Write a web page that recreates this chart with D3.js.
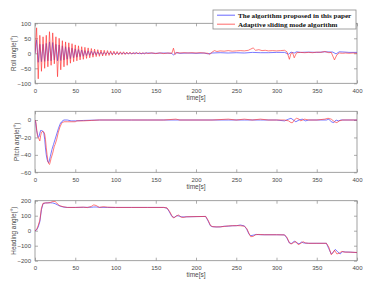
<!DOCTYPE html>
<html><head><meta charset="utf-8">
<script src="https://cdn.jsdelivr.net/npm/d3@7"></script>
<style>
html,body{margin:0;padding:0;background:#fff;}
svg{display:block;}
</style></head>
<body>
<svg id="chart" width="375" height="291"></svg>
<script>
// ---------------- data ----------------
const xTicks = [0, 50, 100, 150, 200, 250, 300, 350, 400];
const rollTicks = [-100, -50, 0, 50, 100];
const pitchTicks = [-60, -40, -20, 0];
const headTicks = [-200, -100, 0, 100, 200];
const seriesNames = ["The algorithm proposed in this paper", "Adaptive sliding mode algorithm"];
const yLabels = ["Roll angle(°)", "Pitch angle(°)", "Heading angle(°)"];

const rollRed = [[0,0],[2,85],[4,-85],[6,60],[8,-60],[10,55],[12,-50],[14,60],[16,-45],[18,72],[20,-40],[22,68],[24,-35],[26,55],[28,-78],[30,50],[32,-55],[34,42],[36,-45],[38,38],[40,-40],[42,35],[44,-33],[46,32],[48,-28],[50,28],[52,-25],[54,25],[56,-22],[58,22],[60,-20],[62,20],[64,-17],[66,18],[68,-15],[70,16],[72,-13],[74,14],[76,-11],[78,12],[80,-10],[82,11],[84,-9],[86,10],[88,-8],[90,9],[92,-7],[94,8],[96,-6],[98,7],[100,-5],[102,6],[104,-5],[106,5],[108,-4],[110,5],[112,-4],[114,4],[116,-3],[118,4],[120,-3],[122,3],[124,-3],[126,3],[128,-2],[130,3],[132,-2],[134,2],[136,-2],[138,2],[140,-1],
[145,1.5],[150,-1],[155,1.5],[160,-1],[165,1],[170,0],[172,17],[174,-4],[176,3],[180,1],[185,2],[190,1],[195,2],[200,1],[205,2],[210,1],[215,0],[217,-4],[220,4],[223,9],[226,6],[230,8],[235,7],[240,9],[245,7],[250,8],[255,9],[260,8],[265,10],[268,14],[271,18],[274,10],[278,12],[282,9],[286,10],[290,8],[295,9],[300,8],[305,9],[310,10],[313,5],[316,-20],[318,0],[320,2],[322,-15],[325,2],[330,3],[335,2],[340,3],[345,2],[350,4],[355,3],[360,6],[365,2],[368,3],[372,-22],[375,-5],[378,1],[382,0],[386,1],[390,0],[395,1],[400,0]];

const rollBlue = [[0,0],[2,45],[4,-30],[6,30],[8,-28],[10,30],[12,-27],[14,33],[16,-25],[18,38],[20,-25],[22,36],[24,-22],[26,30],[28,-25],[30,28],[32,-24],[34,25],[36,-22],[38,22],[40,-20],[42,20],[44,-18],[46,17],[48,-15],[50,15],[52,-13],[54,13],[56,-11],[58,11],[60,-10],[62,9],[64,-8],[66,8],[68,-7],[70,7],[72,-6],[74,6],[76,-5],[78,5],[80,-4],[82,4],[84,-4],[86,3],[88,-3],[90,3],[92,-2],[94,2],[96,-2],[98,2],[100,-2],[102,1.5],[104,-1.5],[106,1.5],[108,-1],[110,1],[112,-1],[114,1],[116,-1],[118,1],[120,-1],
[125,1],[130,-1],[140,1],[150,0],[160,1],[170,0],[172,-6],[175,2],[180,0],[190,1],[200,0],[210,1],[215,-2],[218,0],[220,1],[230,2],[240,1],[250,2],[260,1],[270,3],[280,2],[290,2],[300,3],[310,3],[315,-3],[318,4],[322,1],[325,5],[330,3],[340,4],[350,3],[360,5],[370,4],[374,-2],[378,5],[385,4],[390,3],[400,3]];

const pitchRed = [[0,0],[1,-2],[3,-18],[5,-22],[6,-24],[7,-18],[8,-14],[10,-13],[11,-14],[12,-16],[13,-22],[14,-32],[15,-40],[16,-47],[17,-50],[18,-51],[19,-48],[20,-44],[22,-38],[24,-30],[25,-28],[27,-22],[29,-14],[31,-8],[33,-4],[34,-3],[36,-2],[40,-2],[45,-2],[50,-2],[52,-1],[60,-1],[70,-0.5],[80,0],[100,0],[120,0],[140,0],[160,0],[175,1],[180,0],[200,0],[220,0],[240,1],[250,0],[260,1],[270,0],[280,1],[290,0],[300,0],[310,0],[315,-1],[318,-3],[320,-3],[322,0],[325,2],[328,1],[330,-1],[335,1],[340,0],[350,0],[360,1],[364,2],[368,1],[372,-2],[375,-3],[378,-1],[382,0],[390,0],[400,0]];

const pitchBlue = [[0,0],[1,-4],[2,-12],[4,-20],[5,-19],[6,-15],[7,-12],[8,-12],[10,-13],[11,-15],[12,-22],[13,-32],[14,-40],[15,-45],[16,-48],[17,-49],[18,-46],[19,-42],[21,-34],[23,-28],[25,-22],[27,-16],[29,-10],[31,-5],[32,-3],[33,-3],[34,-1],[36,0],[40,0],[45,-1],[50,-1],[60,-0.5],[80,0],[120,0],[160,0],[200,0],[240,0],[260,0],[280,0],[300,0],[310,-1],[315,1],[318,2],[321,0],[324,-2],[328,0],[332,1],[336,-1],[340,0],[355,0],[362,0],[365,1],[368,-2],[371,-3],[374,0],[377,-1],[380,0],[400,0]];

const headRed = [[0,0],[2,8],[4,35],[6,70],[8,150],[10,183],[13,185],[16,185],[19,188],[22,195],[25,195],[27,185],[30,168],[35,160],[40,155],[50,155],[60,157],[65,154],[70,162],[73,172],[76,168],[80,155],[85,160],[90,157],[100,155],[120,155],[140,155],[160,155],[164,152],[167,130],[170,100],[172,85],[175,95],[178,105],[181,92],[184,88],[188,93],[200,94],[212,95],[215,70],[218,35],[220,28],[225,25],[230,26],[235,28],[240,32],[245,33],[250,34],[255,33],[260,30],[263,15],[266,-20],[268,-40],[271,-38],[274,-27],[278,-25],[285,-27],[300,-27],[310,-28],[313,-45],[316,-80],[318,-89],[321,-80],[324,-72],[327,-93],[330,-85],[333,-73],[336,-82],[340,-84],[350,-84],[362,-84],[365,-110],[368,-160],[370,-150],[372,-130],[375,-155],[378,-150],[381,-138],[385,-143],[390,-143],[400,-145]];

const headBlue = [[0,0],[2,5],[4,25],[6,60],[8,140],[10,180],[13,185],[16,186],[19,186],[22,185],[25,180],[28,172],[32,162],[36,157],[40,155],[50,155],[60,156],[70,156],[73,158],[76,158],[80,156],[90,155],[100,155],[120,155],[140,155],[160,155],[164,150],[167,125],[170,95],[173,88],[176,100],[179,98],[182,92],[186,92],[200,94],[212,95],[215,65],[218,32],[221,26],[226,25],[230,25],[235,30],[240,30],[245,33],[250,33],[255,38],[260,32],[263,10],[266,-25],[268,-33],[271,-30],[275,-25],[280,-27],[300,-27],[310,-28],[313,-50],[316,-82],[319,-85],[322,-70],[325,-80],[328,-88],[331,-76],[334,-82],[340,-84],[362,-84],[365,-120],[368,-155],[371,-140],[373,-125],[376,-140],[379,-155],[382,-140],[386,-142],[392,-143],[400,-146]];

// ---------------- drawing ----------------
const svg = d3.select("#chart");
const BLUE = "#4545ff", RED = "#ff3030", FRAME = "#8a8a8a", TXT = "#4a4a4a";
const left = 35, right = 357;
const x = d3.scaleLinear().domain([0, 400]).range([left, right]);

const panels = [
  {top: 23.3, bottom: 83.3, domain: [-100, 100], ticks: rollTicks, red: rollRed, blue: rollBlue, label: yLabels[0], lx: 15.5},
  {top: 111.3, bottom: 172.3, domain: [-60, 10], ticks: pitchTicks, red: pitchRed, blue: pitchBlue, label: yLabels[1], lx: 19},
  {top: 200.7, bottom: 260.7, domain: [-200, 200], ticks: headTicks, red: headRed, blue: headBlue, label: yLabels[2], lx: 15.5}
];

panels.forEach((p, i) => {
  const y = d3.scaleLinear().domain(p.domain).range([p.bottom, p.top]);
  const g = svg.append("g");
  const cid = "clip" + i;
  svg.append("clipPath").attr("id", cid).append("rect")
    .attr("x", left).attr("y", p.top).attr("width", right - left).attr("height", p.bottom - p.top);

  const xa = g.append("g").attr("transform", `translate(0,${p.bottom})`)
    .call(d3.axisBottom(x).tickValues(xTicks).tickSize(-3).tickPadding(5).tickFormat(d3.format("d")));
  const xt = g.append("g").attr("transform", `translate(0,${p.top})`)
    .call(d3.axisTop(x).tickValues(xTicks).tickSize(-3).tickFormat(""));
  const ya = g.append("g").attr("transform", `translate(${left},0)`)
    .call(d3.axisLeft(y).tickValues(p.ticks).tickSize(-3).tickPadding(4));
  const yr = g.append("g").attr("transform", `translate(${right},0)`)
    .call(d3.axisRight(y).tickValues(p.ticks).tickSize(-3).tickFormat(""));
  [xa, xt, ya, yr].forEach(a => {
    a.select(".domain").remove();
    a.selectAll(".tick line").attr("stroke", FRAME).attr("stroke-width", 0.7);
    a.selectAll("text").attr("fill", TXT).style("font-family", "Liberation Sans, Arial, sans-serif").style("font-size", "6px");
  });
  g.append("rect").attr("x", left).attr("y", p.top).attr("width", right - left).attr("height", p.bottom - p.top)
    .attr("fill", "none").attr("stroke", FRAME).attr("stroke-width", 0.8);

  const line = d3.line().x(d => x(d[0])).y(d => y(d[1]));
  g.append("path").datum(p.blue).attr("clip-path", `url(#${cid})`)
    .attr("d", line).attr("fill", "none").attr("stroke", BLUE).attr("stroke-width", 0.8).attr("stroke-opacity", 0.9);
  g.append("path").datum(p.red).attr("clip-path", `url(#${cid})`)
    .attr("d", line).attr("fill", "none").attr("stroke", RED).attr("stroke-width", 0.8).attr("stroke-opacity", 0.8);

  g.append("text").attr("x", 196).attr("y", p.bottom + 16.5).attr("text-anchor", "middle")
    .attr("fill", TXT).style("font-family", "Liberation Sans, Arial, sans-serif").style("font-size", "6.5px").text("time[s]");
  const cy = (p.top + p.bottom) / 2;
  g.append("text").attr("transform", `translate(${p.lx},${cy}) rotate(-90)`).attr("text-anchor", "middle")
    .attr("fill", TXT).style("font-family", "Liberation Sans, Arial, sans-serif").style("font-size", "6.4px").text(p.label);
});

// legend
const lg = svg.append("g");
lg.append("rect").attr("x", 213).attr("y", 10).attr("width", 143).attr("height", 19)
  .attr("fill", "#fff").attr("stroke", FRAME).attr("stroke-width", 0.8);
[BLUE, RED].forEach((c, k) => {
  const yy = 15.2 + k * 9;
  lg.append("line").attr("x1", 217).attr("x2", 235).attr("y1", yy).attr("y2", yy)
    .attr("stroke", c).attr("stroke-width", 0.9).attr("stroke-opacity", k ? 0.8 : 0.9);
  lg.append("text").attr("x", 238).attr("y", yy + 2.4).attr("fill", "#111")
    .style("font-family", "Liberation Serif, Times New Roman, serif").style("font-weight", "bold").style("font-size", "7.1px")
    .text(seriesNames[k]);
});
</script>
</body></html>
